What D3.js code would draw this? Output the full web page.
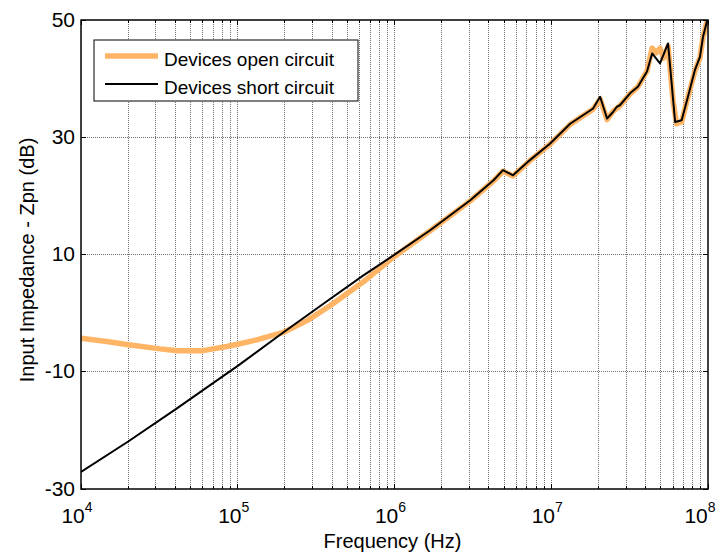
<!DOCTYPE html>
<html>
<head>
<meta charset="utf-8">
<script src="https://cdn.jsdelivr.net/npm/d3@7"></script>
<style>
  body { margin: 0; background: #fff; }
  svg { display: block; font-family: "Liberation Sans", Arial, sans-serif; }
</style>
</head>
<body>
<div id="chart"></div>
<script>
// series (frequency in Hz, impedance in dB)
const openFreq = [1.0e4, 1.5e4, 2.0e4, 3.2e4, 4.1e4, 6.0e4, 8.5e4, 1.0e5, 1.3e5, 1.95e5, 2.8e5, 3.9e5, 6.3e5, 9.8e5, 1.68e6,
  3.03e6, 4.3e6, 4.92e6, 5.7e6, 7.31e6, 9.8e6, 1.32e7, 1.85e7, 2.05e7, 2.27e7, 2.48e7, 2.75e7, 3.18e7, 3.57e7, 4.08e7,
  4.40e7, 4.67e7, 4.94e7, 5.2e7, 5.56e7, 6.0e7, 6.3e7, 6.79e7, 7.45e7, 8.26e7, 8.89e7, 9.29e7, 1.0e8];
const openDb = [-4.3, -4.9, -5.4, -6.1, -6.4, -6.4, -5.7, -5.3, -4.6, -3.3, -1.2, 1.3, 5.3, 9.5, 14.0,
  19.1, 22.6, 24.2, 23.4, 26.0, 28.8, 32.2, 34.8, 36.5, 33.0, 34.4, 35.4, 37.4, 38.6, 41.3,
  45.2, 44.4, 45.2, 43.5, 45.5, 36.0, 32.3, 32.6, 36.9, 41.3, 43.6, 47.0, 50.5];

const shortFreq = [1.0e4, 2.0e4, 4.07e4, 8.1e4, 1.0e5, 1.95e5, 3.88e5, 6.3e5, 9.8e5, 1.68e6, 3.03e6, 4.3e6, 4.92e6, 5.7e6,
  7.31e6, 9.8e6, 1.32e7, 1.85e7, 2.05e7, 2.27e7, 2.48e7, 2.62e7, 2.75e7, 3.18e7, 3.57e7, 4.08e7, 4.40e7, 4.94e7,
  5.56e7, 6.17e7, 6.79e7, 7.45e7, 8.26e7, 8.89e7, 9.29e7, 1.0e8];
const shortDb = [-27.1, -21.9, -16.3, -10.7, -9.0, -3.3, 2.4, 6.4, 9.8, 14.1, 19.2, 22.7, 24.4, 23.5,
  26.1, 28.9, 32.3, 34.9, 36.9, 33.2, 34.3, 35.2, 35.5, 37.5, 38.6, 41.2, 44.3, 42.6,
  46.0, 32.6, 32.9, 36.9, 41.5, 43.7, 47.1, 50.5];

const seriesNames = ["Devices open circuit", "Devices short circuit"];
const seriesColors = ["#FFB565", "#000000"];
const yTicks = [-30, -10, 10, 30, 50];
const xMajor = [1e4, 1e5, 1e6, 1e7, 1e8];
const xExps = ["4", "5", "6", "7", "8"];

const width = 722, height = 558;
const margin = {top: 20, right: 14, bottom: 69, left: 81};
const iw = width - margin.left - margin.right;
const ih = height - margin.top - margin.bottom;

const x = d3.scaleLog().domain([1e4, 1e8]).range([0, iw]);
const y = d3.scaleLinear().domain([-30, 50]).range([ih, 0]);

const svg = d3.select("#chart").append("svg")
    .attr("width", width)
    .attr("height", height);

const g = svg.append("g").attr("transform", `translate(${margin.left},${margin.top})`);

// minor positions 1..9 per decade
const xMinor = [];
xMajor.slice(0, -1).forEach(d => {
  for (let k = 1; k < 10; k++) xMinor.push(d * k);
});
xMinor.push(1e8);

// grid
g.append("g").selectAll("line")
    .data(xMinor.filter(d => d > 1e4 && d < 1e8))
    .enter().append("line")
    .attr("x1", d => x(d)).attr("x2", d => x(d))
    .attr("y1", 0).attr("y2", ih)
    .attr("stroke", "#707070")
    .attr("stroke-width", 1)
    .attr("stroke-dasharray", "1,1")
    .attr("shape-rendering", "crispEdges");

g.append("g").selectAll("line")
    .data(yTicks.filter(d => d > -30 && d < 50))
    .enter().append("line")
    .attr("x1", 0).attr("x2", iw)
    .attr("y1", d => y(d)).attr("y2", d => y(d))
    .attr("stroke", "#707070")
    .attr("stroke-width", 1)
    .attr("stroke-dasharray", "1,1")
    .attr("shape-rendering", "crispEdges");

// lines
g.append("clipPath").attr("id", "clip")
  .append("rect").attr("width", iw).attr("height", ih);

const line = d3.line()
    .x(d => x(d[0]))
    .y(d => y(d[1]));

const openData = d3.zip(openFreq, openDb);
const shortData = d3.zip(shortFreq, shortDb);

const plot = g.append("g").attr("clip-path", "url(#clip)");

plot.append("path")
    .datum(openData)
    .attr("d", line)
    .attr("fill", "none")
    .attr("stroke", seriesColors[0])
    .attr("stroke-width", 5.5)
    .attr("stroke-linejoin", "round");

plot.append("path")
    .datum(shortData)
    .attr("d", line)
    .attr("fill", "none")
    .attr("stroke", seriesColors[1])
    .attr("stroke-width", 2)
    .attr("stroke-linejoin", "round");

// axes, ticks point inward
const tickLen = d => xMajor.includes(d) ? 5 : 3;

g.append("g").selectAll("line")
    .data(xMinor).enter().append("line")
    .attr("x1", d => x(d)).attr("x2", d => x(d))
    .attr("y1", ih).attr("y2", d => ih - tickLen(d))
    .attr("stroke", "#000").attr("shape-rendering", "crispEdges");

g.append("g").selectAll("line")
    .data(xMinor).enter().append("line")
    .attr("x1", d => x(d)).attr("x2", d => x(d))
    .attr("y1", 0).attr("y2", d => tickLen(d))
    .attr("stroke", "#000").attr("shape-rendering", "crispEdges");

g.append("g").selectAll("line")
    .data(yTicks).enter().append("line")
    .attr("x1", 0).attr("x2", 5)
    .attr("y1", d => y(d)).attr("y2", d => y(d))
    .attr("stroke", "#000").attr("shape-rendering", "crispEdges");

g.append("g").selectAll("line")
    .data(yTicks).enter().append("line")
    .attr("x1", iw).attr("x2", iw - 5)
    .attr("y1", d => y(d)).attr("y2", d => y(d))
    .attr("stroke", "#000").attr("shape-rendering", "crispEdges");

g.append("rect")
    .attr("width", iw).attr("height", ih)
    .attr("fill", "none")
    .attr("stroke", "#000")
    .attr("stroke-width", 1.5);

// tick labels
g.append("g").selectAll("text")
    .data(yTicks).enter().append("text")
    .attr("x", -6)
    .attr("y", d => y(d))
    .attr("dy", "0.32em")
    .attr("text-anchor", "end")
    .style("font-size", "21px")
    .text(d => d);

const xl = g.append("g").selectAll("text")
    .data(xMajor).enter().append("text")
    .attr("x", (d, i) => x(d) - (i === xMajor.length - 1 ? 8 : 4))
    .attr("y", ih + 34)
    .attr("text-anchor", "middle")
    .style("font-size", "21px");
xl.append("tspan").text("10");
xl.append("tspan")
    .attr("dy", -11)
    .style("font-size", "14px")
    .text((d, i) => xExps[i]);

// axis titles
svg.append("text")
    .attr("x", margin.left + iw / 2 - 2)
    .attr("y", 548)
    .attr("text-anchor", "middle")
    .style("font-size", "20px")
    .text("Frequency (Hz)");

svg.append("text")
    .attr("transform", `translate(34,260) rotate(-90)`)
    .attr("text-anchor", "middle")
    .style("font-size", "20px")
    .text("Input Impedance - Zpn (dB)");

// legend
const legend = g.append("g").attr("transform", "translate(13,20)");
legend.append("rect")
    .attr("width", 264).attr("height", 61)
    .attr("fill", "#fff")
    .attr("stroke", "#000");
seriesNames.forEach((name, i) => {
  const ly = 16 + i * 28;
  legend.append("line")
      .attr("x1", 11).attr("x2", 64)
      .attr("y1", ly).attr("y2", ly)
      .attr("stroke", seriesColors[i])
      .attr("stroke-width", i === 0 ? 5.5 : 2);
  legend.append("text")
      .attr("x", 70)
      .attr("y", ly + 10)
      .style("font-size", "19px")
      .text(name);
});
</script>
</body>
</html>
